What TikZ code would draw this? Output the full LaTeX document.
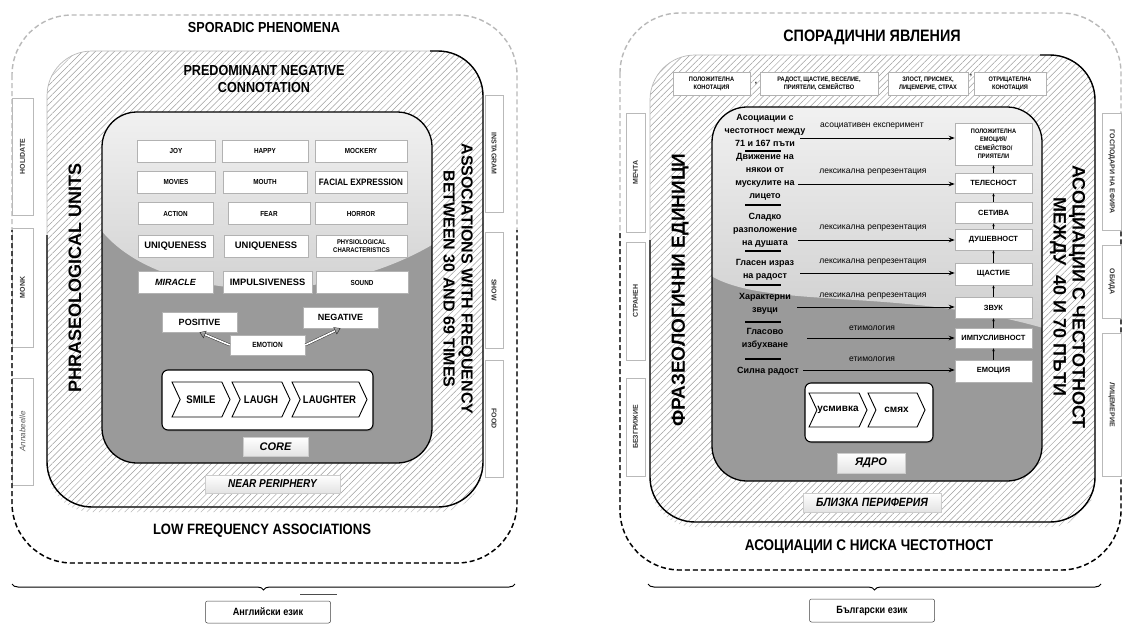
\documentclass[tikz,border=0pt]{standalone}
\usepackage{fontspec}
\setmainfont{Liberation Sans}
\setsansfont{Liberation Sans}
\newfontfamily\cond[FakeStretch=0.87]{Liberation Sans}
\usetikzlibrary{patterns.meta,shapes.symbols,arrows.meta,decorations.pathreplacing,shadows}
\newcommand\myfs[2]{\fontsize{#1}{#2}\selectfont}
\definecolor{coredark}{HTML}{9A9A9A}
\definecolor{sheentop}{HTML}{F2F2F2}
\definecolor{sheenbot}{HTML}{CFCFCF}
\tikzset{
  outerdash/.style={dash pattern=on 5pt off 3pt, line width=1.4pt},
  hatch/.style={pattern={Lines[angle=45,distance=4.5pt,line width=0.5pt]}, pattern color=gray!75},
  hatchshadow/.style={pattern={Lines[angle=45,distance=4.5pt,line width=0.5pt]}, pattern color=gray!55},
  gbox/.style={draw=gray!60, fill=white, line width=0.5pt, inner sep=1pt, align=center, minimum height=22pt, font=\cond\bfseries\myfs{7.3}{8}, drop shadow={shadow xshift=0.8pt, shadow yshift=-0.8pt, opacity=0.35}},
  sidebox/.style={draw=gray!55, fill=white, line width=0.6pt, inner sep=0pt, font=\bfseries\myfs{7}{8}, text=black!80},
  title/.style={font=\cond\bfseries\myfs{14.5}{17}, align=center, inner sep=0pt},
  vtitle/.style={font=\bfseries\myfs{18}{19}, align=center, inner sep=0pt},
  chev/.style={signal, signal to=east, signal from=west, signal pointer angle=130, draw=black, line width=0.9pt, fill=white, inner sep=0pt, font=\cond\bfseries\myfs{11}{12}},
  chain/.style={draw=black, line width=1.1pt, fill=white, rounded corners=6pt, drop shadow={shadow xshift=1pt, shadow yshift=-1.5pt, opacity=0.5}},
  tagbox/.style={draw=gray!40, top color=white, bottom color=gray!22, inner sep=0pt, font=\bfseries\itshape\myfs{11}{12}},
  langbox/.style={draw=gray!50!black, line width=0.5pt, fill=white, rounded corners=2pt, minimum width=125pt, minimum height=22pt, inner sep=0pt, font=\cond\bfseries\myfs{10.5}{12}},
  bracedec/.style={decorate, decoration={brace, mirror, amplitude=6pt}, line width=1pt},
  hrarrow/.style={line width=1pt, -{Stealth[length=6pt,width=4.5pt]}},
  uparrow/.style={line width=0.5pt, -{Stealth[length=3pt,width=2.5pt]}},
  sepline/.style={line width=1.3pt},
  arrlabel/.style={font=\myfs{8.5}{9}, inner sep=0pt},
  leftlab/.style={font=\bfseries\myfs{9}{13}, align=center, inner sep=0pt},
  rbox/.style={draw=gray!60, fill=white, line width=0.5pt, inner sep=0pt, minimum width=77pt, align=center, font=\bfseries\myfs{7.5}{8}},
  dbl/.style={double distance=1.6pt, line width=0.5pt, draw=gray!40!black, -{Triangle[open,length=6pt,width=8pt]}},
}
\begin{document}
\begin{tikzpicture}[x=1pt,y=-1pt]
\useasboundingbox (0,0) rectangle (1126,624);
\fill[white] (0,0) rectangle (1126,624);

% ================= LEFT PANEL =================
\node[sidebox, rotate=90, minimum width=117pt, minimum height=21pt] (holidate) at (22.5,156.5) {HOLIDATE};
\node[sidebox, rotate=90, minimum width=119pt, minimum height=21pt] (monk) at (22.5,287.5) {MONK};
\node[sidebox, rotate=90, minimum width=107pt, minimum height=21pt, font=\itshape\myfs{8}{9}, text=gray!70!black] (anna) at (22.5,431.5) {Annabeelle};
\node[sidebox, rotate=-90, minimum width=117pt, minimum height=18pt] (insta) at (494,153.5) {INSTAGRAM};
\node[sidebox, rotate=-90, minimum width=116pt, minimum height=18pt] (show) at (494,290) {SHOW};
\node[sidebox, rotate=-90, minimum width=117pt, minimum height=18pt] (food) at (494,418.5) {FOOD};

\draw[outerdash, gray!55, rounded corners=60] (12,15) rectangle (517,563);
\begin{scope}
\clip (0,230) rectangle (1126,624);
\draw[outerdash, black, rounded corners=60] (12,15) rectangle (517,563);
\end{scope}

\path[hatchshadow, rounded corners=45, yshift=-5pt] (47,51) rectangle (483,507);
\fill[white, rounded corners=45] (47,51) rectangle (483,507);
\path[hatch, rounded corners=45] (47,51) rectangle (483,507);
\draw[gray!55, line width=0.7pt, rounded corners=45] (47,51) rectangle (483,507);
\draw[black, line width=1.4pt, rounded corners=45] (47,235) -- (47,507) -- (483,507) -- (483,51) -- (430,51);

\fill[coredark, rounded corners=35] (102,112) rectangle (432,463);
\begin{scope}
\clip[rounded corners=35] (102,112) rectangle (432,463);
\shade[top color=sheentop, bottom color=sheenbot] (95,105) -- (95,222) .. controls (150,305) and (330,310) .. (440,240) -- (440,105) -- cycle;
\end{scope}
\draw[black, line width=1.3pt, rounded corners=35] (102,112) rectangle (432,463);

\node[title] (sporL) at (264,28) {SPORADIC PHENOMENA};
\node[title] (predom) at (264,79.5) {PREDOMINANT NEGATIVE\\CONNOTATION};
\node[title, font=\cond\bfseries\myfs{15}{18}] (lowfreq) at (262,531) {LOW FREQUENCY ASSOCIATIONS};
\node[vtitle, rotate=90] (phrL) at (75,278) {PHRASEOLOGICAL UNITS};
\node[vtitle, font=\bfseries\myfs{16}{18}, rotate=-90] (assocL) at (458,279) {ASSOCIATIONS WITH FREQUENCY\\BETWEEN 30 AND 69 TIMES};

\node[gbox, minimum width=78pt] (joy) at (176,151) {JOY};
\node[gbox, minimum width=86pt] (happy) at (265,151) {HAPPY};
\node[gbox, minimum width=92pt] (mock) at (361,151) {MOCKERY};
\node[gbox, minimum width=78pt] (movies) at (176,182) {MOVIES};
\node[gbox, minimum width=84pt] (mouth) at (265,182) {MOUTH};
\node[gbox, minimum width=92pt, font=\cond\bfseries\myfs{9.3}{10}] (facial) at (361,182) {FACIAL EXPRESSION};
\node[gbox, minimum width=75pt] (action) at (175.5,213.5) {ACTION};
\node[gbox, minimum width=82pt] (fear) at (269,213.5) {FEAR};
\node[gbox, minimum width=92pt] (horror) at (361,213.5) {HORROR};
\node[gbox, minimum width=75pt, font=\bfseries\myfs{9.4}{10}] (uniq1) at (175.5,246) {UNIQUENESS};
\node[gbox, minimum width=84pt, font=\bfseries\myfs{9.4}{10}] (uniq2) at (266,246) {UNIQUENESS};
\node[gbox, minimum width=91pt, font=\cond\bfseries\myfs{6.8}{8}] (phys) at (361.5,246) {PHYSIOLOGICAL\\CHARACTERISTICS};
\node[gbox, minimum width=75pt, font=\bfseries\itshape\myfs{9}{10}] (miracle) at (175.5,282.5) {MIRACLE};
\node[gbox, minimum width=89pt, font=\bfseries\myfs{9.3}{10}] (impuls) at (267.5,282.5) {IMPULSIVENESS};
\node[gbox, minimum width=92pt] (sound) at (362,282.5) {SOUND};

\node[gbox, minimum width=75pt, minimum height=20pt, font=\bfseries\myfs{9}{10}] (pos) at (199.5,322) {POSITIVE};
\node[gbox, minimum width=75pt, minimum height=21pt, font=\bfseries\myfs{9}{10}] (neg) at (340.5,317.5) {NEGATIVE};
\node[gbox, minimum width=75pt, minimum height=20pt, font=\cond\bfseries\myfs{7.5}{8}] (emo) at (267.5,345) {EMOTION};
\draw[dbl] (emo.west) -- (pos.south);
\draw[dbl] (emo.east) -- (neg.south);

\node[chain, minimum width=211pt, minimum height=60pt] (chainL) at (267.5,400) {};
\node[chev, minimum width=58pt, minimum height=35pt] (smile) at (201,399.5) {SMILE};
\node[chev, minimum width=58pt, minimum height=35pt] (laugh) at (261,399.5) {LAUGH};
\node[chev, minimum width=75pt, minimum height=35pt] (laughter) at (329.5,399.5) {LAUGHTER};
\node[tagbox, minimum width=65pt, minimum height=19pt] (coreL) at (275.5,447) {CORE};
\node[tagbox, minimum width=135pt, minimum height=18pt, font=\cond\bfseries\itshape\myfs{11.5}{12}] (nearL) at (272.5,484) {NEAR PERIPHERY};

\coordinate (bl1) at (12,584);
\coordinate (bl2) at (515,584);
\draw[bracedec] (bl1) -- (bl2);
\coordinate (ml1) at (300,594);
\coordinate (ml2) at (337,594);
\draw[line width=0.6pt, gray!60!black] (ml1) -- (ml2);
\node[langbox] (engL) at (268,612) {Английски език};

% ================= RIGHT PANEL =================
\draw[outerdash, gray!55, rounded corners=60] (620,13) rectangle (1121,570);
\begin{scope}
\clip (0,230) rectangle (1126,624);
\draw[outerdash, black, rounded corners=60] (620,13) rectangle (1121,570);
\end{scope}

\node[sidebox, rotate=90, minimum width=119pt, minimum height=19pt] (mechta) at (635.5,172.5) {МЕЧТА};
\node[sidebox, rotate=90, minimum width=118pt, minimum height=19pt] (stranen) at (635.5,301) {СТРАНЕН};
\node[sidebox, rotate=90, minimum width=98pt, minimum height=19pt] (bezg) at (635.5,427) {БЕЗГРИЖИЕ};
\node[sidebox, rotate=-90, minimum width=117pt, minimum height=19pt] (gosp) at (1111.5,171.5) {ГОСПОДАРИ НА ЕФИРА};
\node[sidebox, rotate=-90, minimum width=73pt, minimum height=19pt] (obida) at (1111.5,281.5) {ОБИДА};
\node[sidebox, rotate=-90, minimum width=143pt, minimum height=19pt] (litsem) at (1111.5,404.5) {ЛИЦЕМЕРИЕ};

\path[hatchshadow, rounded corners=45, yshift=-5pt] (650,55) rectangle (1095,522);
\fill[white, rounded corners=45] (650,55) rectangle (1095,522);
\path[hatch, rounded corners=45] (650,55) rectangle (1095,522);
\draw[gray!55, line width=0.7pt, rounded corners=45] (650,55) rectangle (1095,522);
\draw[black, line width=1.4pt, rounded corners=45] (650,240) -- (650,522) -- (1095,522) -- (1095,55) -- (1040,55);

\fill[coredark, rounded corners=35] (712,107) rectangle (1042,481);
\begin{scope}
\clip[rounded corners=35] (712,107) rectangle (1042,481);
\shade[top color=sheentop, bottom color=sheenbot] (705,100) -- (705,272) .. controls (760,312) and (900,285) .. (1050,330) -- (1050,100) -- cycle;
\end{scope}
\draw[black, line width=1.3pt, rounded corners=35] (712,107) rectangle (1042,481);

\node[title, font=\cond\bfseries\myfs{16.5}{18}] (sporR) at (872,37) {СПОРАДИЧНИ ЯВЛЕНИЯ};
\node[title, font=\cond\bfseries\myfs{15.5}{18}] (lowR) at (869,547) {АСОЦИАЦИИ С НИСКА ЧЕСТОТНОСТ};
\node[vtitle, font=\bfseries\myfs{19}{20}, rotate=90] (phrR) at (680,290) {ФРАЗЕОЛОГИЧНИ ЕДИНИЦИ};
\node[vtitle, font=\bfseries\myfs{18}{19}, rotate=-90] (assocR) at (1067.5,297) {АСОЦИАЦИИ С ЧЕСТОТНОСТ\\МЕЖДУ\ \ 40 И 70 ПЪТИ};

\node[gbox, minimum width=77pt, minimum height=23pt, font=\cond\bfseries\myfs{6.5}{8}] (posk) at (711.5,83.5) {ПОЛОЖИТЕЛНА\\КОНОТАЦИЯ};
\node[gbox, minimum width=118pt, minimum height=23pt, font=\cond\bfseries\myfs{6.5}{8}] (rad) at (819,83.5) {РАДОСТ, ЩАСТИЕ, ВЕСЕЛИЕ,\\ПРИЯТЕЛИ, СЕМЕЙСТВО};
\node[gbox, minimum width=80pt, minimum height=23pt, font=\cond\bfseries\myfs{6.5}{8}] (zl) at (928,83.5) {ЗЛОСТ, ПРИСМЕХ,\\ЛИЦЕМЕРИЕ, СТРАХ};
\node[gbox, minimum width=72pt, minimum height=23pt, font=\cond\bfseries\myfs{6.5}{8}] (otr) at (1010,83.5) {ОТРИЦАТЕЛНА\\КОНОТАЦИЯ};
\node[font=\bfseries\myfs{8}{8}, inner sep=0pt] (c1) at (756,84) {,};
\node[font=\bfseries\myfs{8}{8}, inner sep=0pt] (c2) at (971,76) {,};

\node[rbox, minimum height=42pt, font=\cond\bfseries\myfs{6.5}{8.5}] (p1) at (993.5,144) {ПОЛОЖИТЕЛНА\\ЕМОЦИЯ/\\СЕМЕЙСТВО/\\ПРИЯТЕЛИ};
\node[rbox, minimum height=20pt] (p2) at (993.5,183) {ТЕЛЕСНОСТ};
\node[rbox, minimum height=21pt] (p3) at (993.5,212.5) {СЕТИВА};
\node[rbox, minimum height=21pt] (p4) at (993.5,239.5) {ДУШЕВНОСТ};
\node[rbox, minimum height=22pt] (p5) at (993.5,274) {ЩАСТИЕ};
\node[rbox, minimum height=21pt] (p6) at (993.5,307.5) {ЗВУК};
\node[rbox, minimum height=20pt] (p7) at (993.5,338) {ИМПУСЛИВНОСТ};
\node[rbox, minimum height=22pt] (p8) at (993.5,371) {ЕМОЦИЯ};
\foreach \a/\b in {p2/p1,p3/p2,p4/p3,p5/p4,p6/p5,p7/p6,p8/p7}
  \draw[uparrow] (\a.north) -- (\b.south);

\node[leftlab] (t1) at (765,130) {Асоциации с\\честотност между\\71 и 167 пъти};
\node[leftlab] (t2) at (765,177) {Движение на\\някои от\\мускулите на\\лицето};
\node[leftlab] (t3) at (765,230) {Сладко\\разположение\\на душата};
\node[leftlab] (t4) at (765,270) {Гласен израз\\на радост};
\node[leftlab] (t5) at (765,303.5) {Характерни\\звуци};
\node[leftlab] (t6) at (765,339) {Гласово\\избухване};
\node[leftlab] (t7) at (768,371) {Силна радост};
\foreach \y [count=\i] in {151,205,251,285,322,359} {
  \coordinate (sa\i) at (745,\y);
  \coordinate (sb\i) at (781,\y);
  \draw[sepline] (sa\i) -- (sb\i);
}

\coordinate (s1) at (800,138);
\coordinate (s2) at (798,184);
\coordinate (s3) at (798,240);
\coordinate (s4) at (800,273);
\coordinate (s5) at (797,307);
\coordinate (s6) at (807,338);
\coordinate (s7) at (803,370);
\draw[hrarrow] (s1) -- (s1 -| p1.west);
\draw[hrarrow] (s2) -- (s2 -| p2.west);
\draw[hrarrow] (s3) -- (s3 -| p4.west);
\draw[hrarrow] (s4) -- (s4 -| p5.west);
\draw[hrarrow] (s5) -- (s5 -| p6.west);
\draw[hrarrow] (s6) -- (s6 -| p7.west);
\draw[hrarrow] (s7) -- (s7 -| p8.west);
\node[arrlabel] (l1) at (872,126) {асоциативен експеримент};
\node[arrlabel] (l2) at (873,172) {лексикална репрезентация};
\node[arrlabel] (l3) at (873,228) {лексикална репрезентация};
\node[arrlabel] (l4) at (873,262) {лексикална репрезентация};
\node[arrlabel] (l5) at (873,296) {лексикална репрезентация};
\node[arrlabel] (l6) at (872,328) {етимология};
\node[arrlabel] (l7) at (872,359) {етимология};

\node[chain, minimum width=128pt, minimum height=59pt] (chainR) at (869,412.5) {};
\node[chev, minimum width=58pt, minimum height=34pt, font=\bfseries\myfs{10}{11}] (usm) at (838,410) {усмивка};
\node[chev, minimum width=57pt, minimum height=34pt, font=\bfseries\myfs{10}{11}] (smyah) at (896.5,410) {смях};
\node[tagbox, minimum width=68pt, minimum height=20pt] (yadro) at (871,463) {ЯДРО};
\node[tagbox, minimum width=138pt, minimum height=19pt, font=\cond\bfseries\itshape\myfs{12}{13}] (blizka) at (872,502.5) {БЛИЗКА ПЕРИФЕРИЯ};

\coordinate (br1) at (648,584);
\coordinate (br2) at (1101,584);
\draw[bracedec] (br1) -- (br2);
\node[langbox, minimum height=23pt] (bgR) at (872,610.5) {Български език};
\end{tikzpicture}
\end{document}
